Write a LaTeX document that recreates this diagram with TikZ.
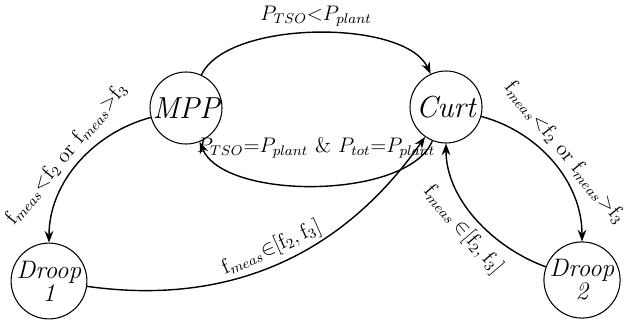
\documentclass[tikz,border=0pt]{standalone}
\usepackage{amsmath}
\usetikzlibrary{arrows.meta, positioning}

\begin{document}
\begin{tikzpicture}[
    state/.style={circle, draw, semithick, minimum size=1.44cm, inner sep=0pt, align=center, font=\LARGE\itshape},
    droopstate/.style={state, font=\Large\itshape},
    trans/.style={-{Stealth}, thick},
    lbl/.style={font=\large}]
\useasboundingbox (0,0) rectangle (12.48,6.4);
\node[state] (mpp) at (3.72,4.24) {MPP};
\node[state] (curt) at (8.92,4.26) {Curt};
\node[droopstate] (droop1) at (0.98,0.78) {Droop\\[-5pt]1};
\node[droopstate, minimum size=1.36cm] (droop2) at (11.64,0.80) {Droop\\[-5pt]2};
\draw[trans] (mpp) to[out=65, in=115, looseness=0.68]
    node[lbl, pos=0.5, above] (lmc) {$P_{TSO}{<}P_{plant}$} (curt);
\draw[trans] (curt) to[out=-112, in=-68, looseness=0.7]
    node[lbl, pos=0.5, above=0.42cm] (lcm) {$P_{TSO}{=}P_{plant}$ \& $P_{tot}{=}P_{plant}$} (mpp);
\draw[trans] (mpp) to[out=195, in=90, looseness=0.95]
    node[lbl, pos=0.5, above, sloped] (lmd) {$\mathrm{f}_{meas}{<}\mathrm{f}_2$ or $\mathrm{f}_{meas}{>}\mathrm{f}_3$} (droop1);
\draw[trans] (curt) to[out=-15, in=90, looseness=0.95]
    node[lbl, pos=0.5, above, sloped] (lcd) {$\mathrm{f}_{meas}{<}\mathrm{f}_2$ or $\mathrm{f}_{meas}{>}\mathrm{f}_3$} (droop2);
\draw[trans] (droop1) to[out=-8, in=-125]
    node[lbl, pos=0.5, above, sloped] (ldc) {$\mathrm{f}_{meas}{\in}[\mathrm{f}_2,\mathrm{f}_3]$} (curt);
\draw[trans] (droop2) to[out=160, in=-90, looseness=0.9]
    node[lbl, pos=0.5, below, sloped] (lec) {$\mathrm{f}_{meas}\,{\in}[\mathrm{f}_2,\mathrm{f}_3]$} (curt);
\end{tikzpicture}
\end{document}
